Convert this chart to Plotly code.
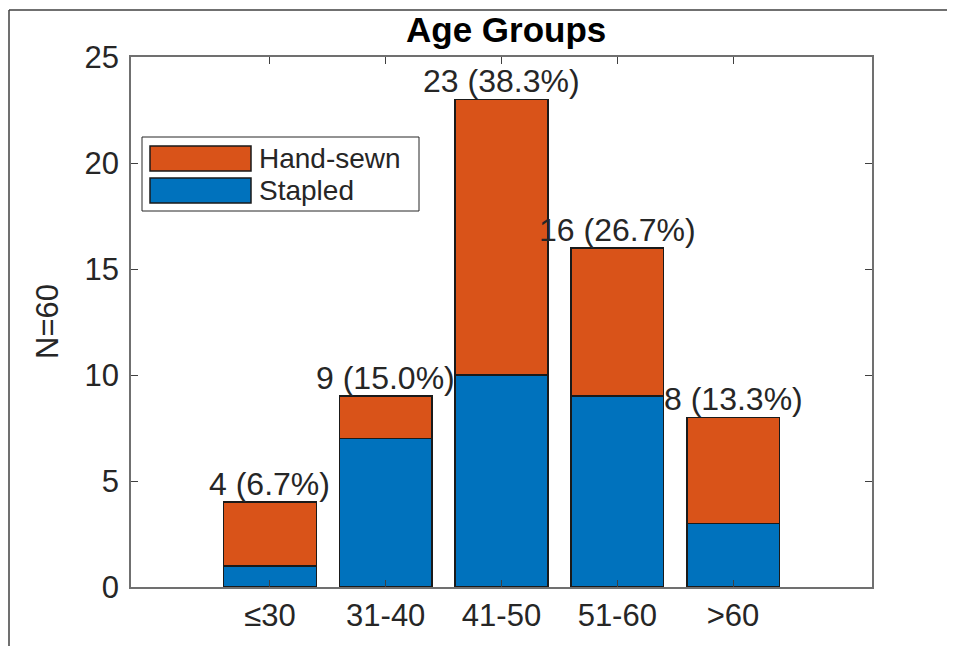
import plotly.graph_objects as go

# ---- data ----
categories = ["≤30", "31-40", "41-50", "51-60", ">60"]
stapled = [1, 7, 10, 9, 3]
hand_sewn = [3, 2, 13, 7, 5]
series_names = ["Hand-sewn", "Stapled"]
y_ticks = [0, 5, 10, 15, 20, 25]

ORANGE = "#D95319"
BLUE = "#0072BD"
FONT = "Liberation Sans, Arial, sans-serif"
TXT = "#262626"

W, H = 955, 646
OFF = 8  # page body margin offset
L, R, T, B = 131 - OFF, 872 - OFF, 57 - OFF, 587 - OFF  # plot area in figure pixels


def px(x):
    return (x - OFF - L) / (R - L)


def py(y):
    return (B - (y - OFF)) / (B - T)


xpos = list(range(1, len(categories) + 1))
totals = [a + b for a, b in zip(stapled, hand_sewn)]
N = sum(totals)

fig = go.Figure()
fig.add_trace(go.Bar(x=xpos, y=stapled, name=series_names[1], marker=dict(color=BLUE, line=dict(color="#1a1a1a", width=1.5)), width=0.8, showlegend=False))
fig.add_trace(go.Bar(x=xpos, y=hand_sewn, name=series_names[0], marker=dict(color=ORANGE, line=dict(color="#1a1a1a", width=1.5)), width=0.8, showlegend=False))

annotations = []
for x, t in zip(xpos, totals):
    annotations.append(dict(x=x, y=t, xref="x", yref="y", text=f"{t} ({t / N * 100:.1f}%)",
                            showarrow=False, yanchor="bottom", xanchor="center", yshift=-2,
                            font=dict(family=FONT, size=32, color=TXT)))

# title
annotations.append(dict(x=px(506), y=py(30), xref="paper", yref="paper", text="<b>Age Groups</b>",
                        showarrow=False, xanchor="center", yanchor="middle",
                        font=dict(family=FONT, size=35, color="#000000")))
# y label
annotations.append(dict(x=px(47), y=py(322), xref="paper", yref="paper", text=f"N={N}", textangle=-90,
                        showarrow=False, xanchor="center", yanchor="middle",
                        font=dict(family=FONT, size=31, color=TXT)))

shapes = []
# outer frame (left and top edges)
shapes.append(dict(type="line", xref="paper", yref="paper", x0=px(9), x1=px(9), y0=py(10), y1=py(670),
                   line=dict(color="#404040", width=1.5)))
shapes.append(dict(type="line", xref="paper", yref="paper", x0=px(9), x1=px(980), y0=py(10), y1=py(10),
                   line=dict(color="#404040", width=1.5)))

# custom legend
shapes.append(dict(type="rect", xref="paper", yref="paper", x0=px(142), x1=px(419), y0=py(137), y1=py(211),
                   line=dict(color="#262626", width=1), fillcolor="white"))
legend_items = [(series_names[0], ORANGE, 146, 171), (series_names[1], BLUE, 178, 203)]
for name, col, y0, y1 in legend_items:
    shapes.append(dict(type="rect", xref="paper", yref="paper", x0=px(150), x1=px(251), y0=py(y0), y1=py(y1),
                       line=dict(color="#1a1a1a", width=1.5), fillcolor=col))
    annotations.append(dict(x=px(257), y=py((y0 + y1) / 2), xref="paper", yref="paper", text=name,
                            showarrow=False, xanchor="left", yanchor="middle",
                            font=dict(family=FONT, size=28, color=TXT)))

fig.update_layout(
    width=W, height=H,
    margin=dict(l=L, r=W - R, t=T, b=H - B, pad=0),
    paper_bgcolor="white", plot_bgcolor="white",
    barmode="stack", bargap=0.2,
    showlegend=False,
    annotations=annotations, shapes=shapes,
    font=dict(family=FONT, size=31, color=TXT),
)
fig.update_xaxes(range=[-0.2, 6.2], tickvals=xpos, ticktext=categories, ticks="inside", ticklen=7,
                 tickcolor="#404040", showline=True, linecolor="#707070", linewidth=1.5, mirror="ticks",
                 showgrid=False, zeroline=False, tickfont=dict(family=FONT, size=31, color=TXT))
fig.update_yaxes(range=[0, 25], tickvals=y_ticks, ticks="inside", ticklen=7,
                 tickcolor="#404040", showline=True, linecolor="#707070", linewidth=1.5, mirror="ticks",
                 showgrid=False, zeroline=False, tickfont=dict(family=FONT, size=31, color=TXT),
                 ticklabelstandoff=4)

fig.write_html("out.html")
